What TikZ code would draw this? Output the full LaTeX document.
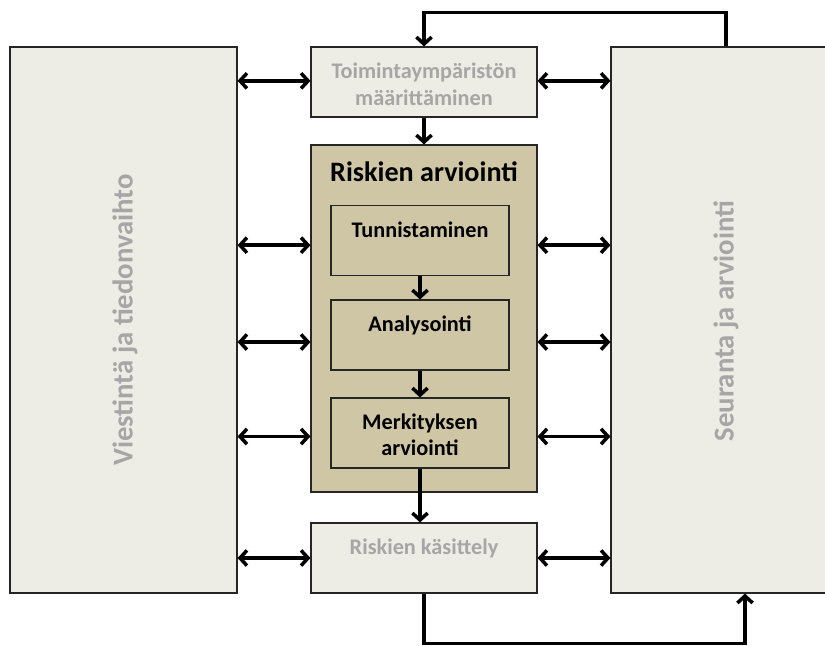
\documentclass[tikz,border=0pt]{standalone}
\usepackage{fontspec}
\setmainfont{Carlito}
\usetikzlibrary{arrows.meta}
\usetikzlibrary{positioning}
\usetikzlibrary{shadows}

\definecolor{boxgray}{HTML}{EDECE5}
\definecolor{boxtan}{HTML}{CEC6A5}
\definecolor{txtgray}{HTML}{A6A6A6}

\tikzset{
  box/.style={rectangle, draw=black!85, line width=0.9pt, inner sep=0pt,
    drop shadow={shadow xshift=0.8pt, shadow yshift=-0.8pt, opacity=0.3}},
  graybox/.style={box, fill=boxgray, minimum width=6.78cm, minimum height=2.1cm},
  tanbox/.style={box, fill=boxtan},
  stepbox/.style={tanbox, minimum width=5.34cm, minimum height=2.1cm},
  sidebox/.style={box, fill=boxgray, minimum height=16.38cm},
  graytxt/.style={inner sep=0pt, align=center, text=txtgray, font=\fontsize{19}{23}\bfseries},
  steptxt/.style={inner sep=0pt, align=center, font=\fontsize{19}{23}\bfseries},
  sidetxt/.style={inner sep=0pt, text=txtgray, rotate=90, font=\fontsize{24.5}{28}\bfseries},
  flow/.style={line width=3pt}
}

\begin{document}
\begin{tikzpicture}[x=0.03cm, y=-0.03cm, line join=miter, >={Straight Barb[length=6pt,width=13pt]}]
  \useasboundingbox (0,0) rectangle (825,645);
  \clip (0,0) rectangle (825,645);
  %--- side boxes
    \node[sidebox, minimum width=6.81cm] (vie) at (123.5,320) {};
    \node[sidetxt] (vietxt) at (125,320) {Viestintä ja tiedonvaihto};
    \node[sidebox, minimum width=6.9cm] (sea) at (726,320) {};
    \node[sidetxt] (seatxt) at (726,321) {Seuranta ja arviointi};
  %--- middle column
    \node[graybox] (tmm) at (424,82) {};
    \node[graytxt, below=0.5cm of tmm.north] (tmmtxt) {Toimintaympäristön\\määrittäminen};
    \node[tanbox, minimum width=6.78cm, minimum height=10.41cm] (ra) at (424,318.5) {};
    \node[inner sep=0pt, font=\fontsize{24}{28}\bfseries, below=0.52cm of ra.north] (ratxt) {Riskien arviointi};
    \node[stepbox] (tun) at (420,240.5) {};
    \node[steptxt, below=0.49cm of tun.north] (tuntxt) {Tunnistaminen};
    \node[stepbox] (ana) at (420,335) {};
    \node[steptxt, below=0.49cm of ana.north] (anatxt) {Analysointi};
    \node[stepbox] (mer) at (420,433) {};
    \node[steptxt, below=0.47cm of mer.north] (mertxt) {Merkityksen\\arviointi};
    \node[graybox] (kas) at (424,558) {};
    \node[graytxt, below=0.47cm of kas.north] (kastxt) {Riskien käsittely};
  %--- flow down
    \draw[->, flow] (tmm.south) -- (ra.north);
    \draw[->, flow] (tun.south) -- (ana.north);
    \draw[->, flow] (ana.south) -- (mer.north);
    \draw[->, flow] (mer.south) -- (mer.south |- kas.north);
  %--- loops
    \draw[->, flow] (sea.north) -- ++(0,-34) -| (tmm.north);
    \coordinate (seain) at ([xshift=0.57cm]sea.south);
    \draw[->, flow] (kas.south) -- ++(0,50) -| (seain);
  %--- exchange arrows
    \foreach \n/\dy in {tmm/1pt, tun/-4pt, ana/-6pt, mer/-3pt, kas/0pt} {
      \draw[<->, flow] ([yshift=\dy]vie.east |- \n.center) -- ([yshift=\dy]ra.west |- \n.center);
      \draw[<->, flow] ([yshift=\dy]ra.east |- \n.center) -- ([yshift=\dy]sea.west |- \n.center);
    }
\end{tikzpicture}
\end{document}
